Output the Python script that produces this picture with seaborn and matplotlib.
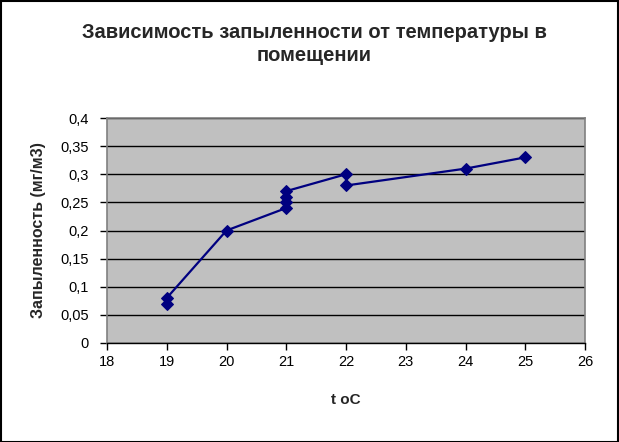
import pandas as pd
import matplotlib
matplotlib.use("Agg")
import matplotlib.pyplot as plt
import seaborn as sns
from matplotlib.ticker import FuncFormatter

# data (order as the line is drawn)
temperature = [19, 19, 20, 21, 21, 21, 21, 22, 22, 24, 25]
dust = [0.07, 0.08, 0.20, 0.24, 0.25, 0.26, 0.27, 0.30, 0.28, 0.31, 0.33]

x_ticks = [18, 19, 20, 21, 22, 23, 24, 25, 26]
y_ticks = [0, 0.05, 0.1, 0.15, 0.2, 0.25, 0.3, 0.35, 0.4]

title = "Зависимость запыленности от температуры в\nпомещении"
x_label = "t oC"
y_label = "Запыленность (мг/м3)"

df = pd.DataFrame({"t": temperature, "dust": dust})

sns.set_style("white")
plt.rcParams["font.family"] = ["Liberation Sans", "DejaVu Sans"]

fig = plt.figure(figsize=(6.19, 4.42), dpi=100)
ax = fig.add_axes([107 / 619, 1 - 343 / 442, 478 / 619, 225 / 442])
ax.set_facecolor("#c0c0c0")

sns.lineplot(data=df, x="t", y="dust", sort=False, estimator=None,
             color="#000080", linewidth=1.6, marker="D", markersize=6.5,
             markeredgecolor="#000080", ax=ax)

ax.set_xlim(18, 26)
ax.set_ylim(0, 0.4)
ax.set_xticks(x_ticks)
ax.set_yticks(y_ticks)
ax.yaxis.set_major_formatter(FuncFormatter(lambda v, p: f"{v:g}".replace(".", ",")))
ax.grid(axis="y", color="black", linewidth=1)
ax.grid(axis="x", visible=False)
ax.set_axisbelow(True)

for side in ["top", "right", "left"]:
    ax.spines[side].set_color("#808080")
    ax.spines[side].set_linewidth(1.2)
ax.spines["bottom"].set_color("black")
ax.spines["bottom"].set_linewidth(1)

ax.tick_params(axis="both", direction="out", length=5, width=1, color="black",
               labelsize=10.5, labelcolor="black", left=True, bottom=True)
ax.tick_params(axis="x", pad=4)
ax.tick_params(axis="y", pad=8)

ax.set_xlabel(x_label, fontsize=11, fontweight="bold", labelpad=17)
ax.set_ylabel(y_label, fontsize=11.5, fontweight="bold", labelpad=10)

fig.text(0.508, 1 - 44 / 442, title, ha="center", va="center",
         fontsize=14.5, fontweight="bold", linespacing=1.25)

# black frame around the chart
fig.patches.append(plt.Rectangle((0.001, 0.001), 0.997, 0.997, transform=fig.transFigure,
                                 fill=False, edgecolor="black", linewidth=1.5))

fig.savefig("out.png", dpi=100)
